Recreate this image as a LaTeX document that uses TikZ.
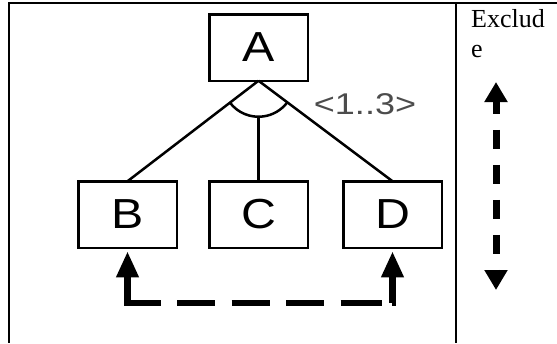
\documentclass[tikz,border=0pt]{standalone}
\usepackage{fontspec}
\usepackage{graphicx}
\setmainfont{Liberation Serif}
\newfontfamily\diagfont{Liberation Sans}
\usetikzlibrary{arrows.meta,calc}
\begin{document}
\begin{tikzpicture}[x=1pt,y=-1pt,
  feature/.style={draw, line width=2.5pt, minimum width=98.5pt, minimum height=66.5pt,
    inner sep=0pt, outer sep=0pt, font=\diagfont\fontsize{42}{42}\selectfont},
  branch/.style={line width=2.5pt},
  frameline/.style={line width=2pt},
  exclude/.style={line width=6.5pt, line join=miter, line cap=butt,
    {Triangle[length=26pt,width=21pt]}-{Triangle[length=26pt,width=21pt]}},
  legendarrow/.style={line width=7pt, line cap=butt,
    {Triangle[length=20pt,width=22pt]}-{Triangle[length=20pt,width=22pt]},
    dash pattern=on 19pt off 16pt, dash phase=6pt},
]
\useasboundingbox (0,0) rectangle (557,343);

% table frame
\draw[frameline] (8,3) -- (557,3);
\draw[frameline] (9,3) -- (9,343);
\draw[frameline] (456,3) -- (456,343);

% feature boxes
\node[feature] (A) at (258.5,47.5) {\scalebox{1.15}[1]{A}};
\node[feature] (B) at (127.5,214.5) {\scalebox{1.15}[1]{B}};
\node[feature] (C) at (258.5,214.5) {\scalebox{1.15}[1]{C}};
\node[feature] (D) at (392.5,214.5) {\scalebox{1.15}[1]{D}};

% group with cardinality
\draw[branch] (A.south) -- (B.north);
\draw[branch] (A.south) -- (D.north);
\draw[branch] ($(A.south)!36pt!(B.north)$) arc[start angle=142.5, end angle=36.9, radius=36];
\coordinate (arcb) at ($(A.south)+(0,36)$);
\draw[branch] (arcb) -- (C.north);
\node[font=\diagfont\fontsize{30}{30}\selectfont, text=black!70, inner sep=0pt] (card) at (365,104)
  {\scalebox{1.2}[1]{<1..3>}};

% exclude constraint between B and D
\coordinate (cD) at (D.south |- 0,303);
\draw[exclude, shorten <=3.5pt, shorten >=3.5pt,
  dash pattern=on 60.5pt off 16.5pt on 38pt off 16.5pt on 38pt off 16.5pt on 38pt off 16.5pt on 41pt off 10pt on 60pt]
  (B.south) |- (cD) -- (D.south);

% legend column
\node[anchor=base west, inner sep=0pt, font=\fontsize{26}{30}\selectfont] (kw1) at (471,27) {Exclud};
\node[anchor=base west, inner sep=0pt, font=\fontsize{26}{30}\selectfont] (kw2) at (471,57) {e};
\coordinate (lt) at (496,82);
\coordinate (lb) at (496,290);
\draw[legendarrow] (lt) -- (lb);
\end{tikzpicture}
\end{document}
